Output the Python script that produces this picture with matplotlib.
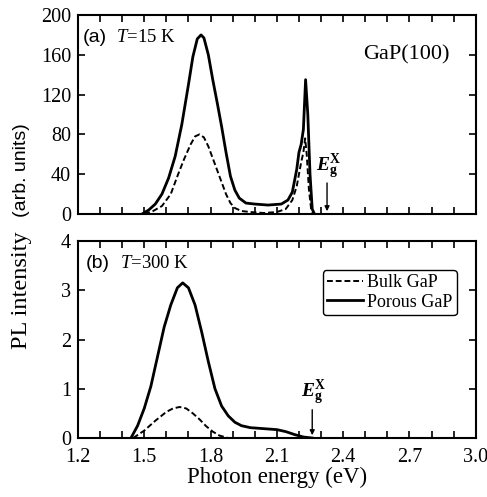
import numpy as np
import matplotlib
matplotlib.use('Agg')
import matplotlib.pyplot as plt
from matplotlib.ticker import MultipleLocator

plt.rcParams['font.family'] = 'Liberation Serif'
plt.rcParams['mathtext.fontset'] = 'custom'
plt.rcParams['mathtext.rm'] = 'Liberation Serif'
plt.rcParams['mathtext.it'] = 'Liberation Serif:italic'
plt.rcParams['mathtext.bf'] = 'Liberation Serif:bold'
plt.rcParams['mathtext.bfit'] = 'Liberation Serif:bold:italic'

# (a) T = 15 K
e_porous_15 = [1.49, 1.52, 1.55, 1.58, 1.61, 1.64, 1.67, 1.70, 1.72, 1.74, 1.757, 1.77,
               1.79, 1.81, 1.83, 1.85, 1.87, 1.89, 1.91, 1.93, 1.96, 2.00, 2.06, 2.12,
               2.15, 2.17, 2.19, 2.20, 2.21, 2.22, 2.23, 2.24, 2.25, 2.26, 2.27]
i_porous_15 = [0, 4, 10, 20, 36, 58, 90, 130, 158, 176, 180, 177,
               160, 135, 112, 88, 62, 38, 24, 16, 11, 10, 9, 10,
               14, 22, 45, 62, 70, 85, 135, 100, 40, 5, 0]
e_bulk_15 = [1.50, 1.54, 1.58, 1.62, 1.65, 1.68, 1.71, 1.73, 1.75, 1.77, 1.79, 1.81,
             1.83, 1.85, 1.87, 1.89, 1.91, 1.94, 1.98, 2.04, 2.10, 2.14, 2.17, 2.19,
             2.20, 2.21, 2.22, 2.228, 2.235, 2.245, 2.255, 2.265]
i_bulk_15 = [0, 3, 8, 20, 38, 55, 70, 78, 80, 77, 68, 56,
             44, 32, 20, 11, 6, 3, 2, 1, 2, 5, 14, 28,
             40, 52, 62, 76, 60, 25, 5, 0]

# (b) T = 300 K
e_porous_300 = [1.44, 1.47, 1.50, 1.53, 1.56, 1.59, 1.62, 1.65, 1.674, 1.70, 1.73, 1.76,
                1.79, 1.82, 1.85, 1.88, 1.91, 1.94, 1.98, 2.04, 2.10, 2.14, 2.18, 2.22, 2.26]
i_porous_300 = [0, 0.25, 0.6, 1.05, 1.65, 2.25, 2.7, 3.05, 3.15, 3.05, 2.7, 2.15,
                1.55, 1.0, 0.65, 0.45, 0.32, 0.25, 0.21, 0.19, 0.17, 0.13, 0.07, 0.02, 0]
e_bulk_300 = [1.45, 1.50, 1.55, 1.60, 1.63, 1.66, 1.69, 1.72, 1.75, 1.78, 1.81, 1.84, 1.88]
i_bulk_300 = [0, 0.15, 0.35, 0.53, 0.6, 0.63, 0.6, 0.5, 0.38, 0.24, 0.13, 0.05, 0]

egx_15 = 2.327
egx_300 = 2.26

fig = plt.figure(figsize=(4.87, 4.97), dpi=100)
ax1 = fig.add_axes([0.160, 0.5694, 0.817, 0.4004])
ax2 = fig.add_axes([0.160, 0.1187, 0.817, 0.3964])

for ax in (ax1, ax2):
    ax.set_xlim(1.2, 3.0)
    ax.xaxis.set_major_locator(MultipleLocator(0.3))
    ax.xaxis.set_minor_locator(MultipleLocator(0.1))
    ax.tick_params(which='both', direction='in', top=True, right=True,
                   length=5, width=1.2, labelsize=14.5)
    ax.tick_params(axis='x', pad=7)
    ax.tick_params(axis='y', pad=5)
    for s in ax.spines.values():
        s.set_linewidth(1.5)

ax1.plot(e_bulk_15, i_bulk_15, 'k--', lw=1.4, dashes=(3, 1.5))
ax1.plot(e_porous_15, i_porous_15, 'k-', lw=2.0)
ax1.set_ylim(0, 200)
ax1.yaxis.set_major_locator(MultipleLocator(40))
ax1.tick_params(labelbottom=False)
ax1.text(0.013, 0.865, '(a)', transform=ax1.transAxes, family='Liberation Sans', fontsize=14)
ax1.text(0.095, 0.865, r'$T$=15 K', transform=ax1.transAxes, fontsize=13.5)
ax1.text(0.935, 0.775, 'GaP(100)', transform=ax1.transAxes, fontsize=16, ha='right')
ax1.annotate('', xy=(egx_15, 0), xytext=(egx_15, 34),
             arrowprops=dict(arrowstyle='-|>', color='k', lw=1.0, mutation_scale=7))
ax1.text(egx_15 + 0.005, 33, r'$\mathbfit{E}_{\mathbf{g}}^{\mathbf{X}}$',
         ha='center', va='bottom', fontsize=14)

ax2.plot(e_bulk_300, i_bulk_300, 'k--', lw=1.4, dashes=(3, 1.5), label='Bulk GaP')
ax2.plot(e_porous_300, i_porous_300, 'k-', lw=2.0, label='Porous GaP')
ax2.set_ylim(0, 4)
ax2.yaxis.set_major_locator(MultipleLocator(1))
ax2.text(0.02, 0.865, '(b)', transform=ax2.transAxes, family='Liberation Sans', fontsize=14)
ax2.text(0.105, 0.865, r'$T$=300 K', transform=ax2.transAxes, fontsize=13.5)
ax2.annotate('', xy=(egx_300, 0), xytext=(egx_300, 0.63),
             arrowprops=dict(arrowstyle='-|>', color='k', lw=1.0, mutation_scale=7))
ax2.text(egx_300 + 0.005, 0.62, r'$\mathbfit{E}_{\mathbf{g}}^{\mathbf{X}}$',
         ha='center', va='bottom', fontsize=14)
leg = ax2.legend(loc='upper right', bbox_to_anchor=(0.952, 0.853), borderaxespad=0,
                 fontsize=13, handlelength=2.0, handletextpad=0.2, borderpad=0.25,
                 labelspacing=0.12, fancybox=True, framealpha=1, edgecolor='k')
leg.get_frame().set_linewidth(1.0)

ax2.set_xlabel('Photon energy (eV)', fontsize=16.5, labelpad=0)
fig.text(0.045, 0.416, 'PL intensity', rotation=90, ha='center', va='center', fontsize=17.5)
fig.text(0.045, 0.658, '(arb. units)', rotation=90, ha='center', va='center',
         family='Liberation Sans', fontsize=14)

fig.savefig('out.png', dpi=100)
